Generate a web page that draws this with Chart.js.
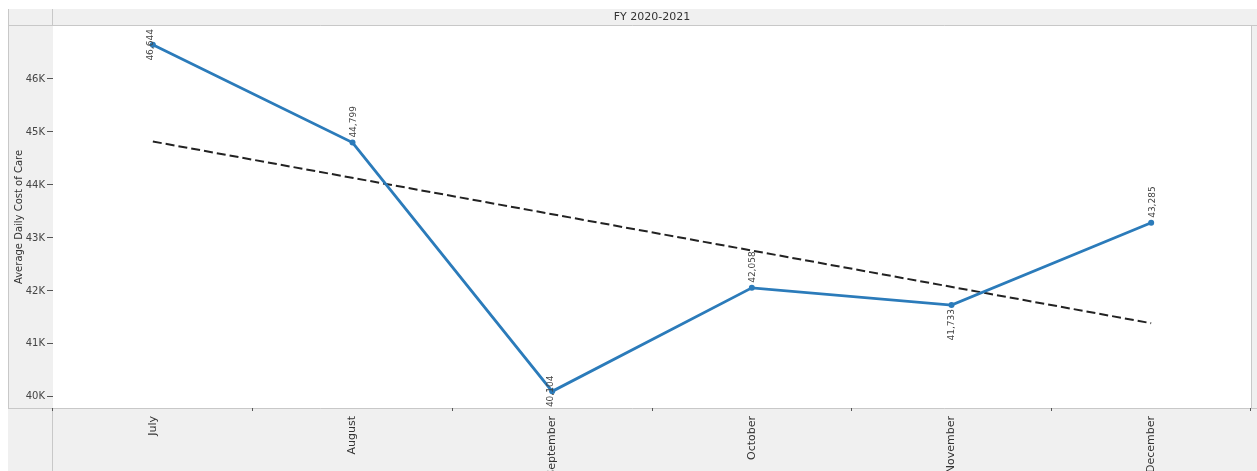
<!DOCTYPE html>
<html>
<head>
<meta charset="utf-8">
<script src="https://cdn.jsdelivr.net/npm/chart.js@4"></script>
<style>
  html, body { margin: 0; padding: 0; background: #fff; }
  #wrap { width: 1257px; height: 471px; position: relative; }
</style>
</head>
<body>
<div id="wrap"><canvas id="costChart"></canvas></div>
<script>
// Data
const months = ['July', 'August', 'September', 'October', 'November', 'December'];
const dailyCost = [46644, 44799, 40104, 42058, 41733, 43285];
// trend line end points (only first and last month are drawn)
const trendCost = [44820, null, null, null, null, 41390];
const yTicks = [40000, 41000, 42000, 43000, 44000, 45000, 46000];
const panelTitle = 'FY 2020-2021';
const yTitle = 'Average Daily Cost of Care';

// where each value label sits relative to its point
const labelPlace = ['center', 'above', 'center', 'above', 'below', 'above'];

const FONT = '"DejaVu Sans", Tahoma, sans-serif';

// gray header / axis bands like the Tableau frame
const framePlugin = {
    id: 'frame',
    beforeDraw(chart) {
        const c = chart.ctx;
        const a = chart.chartArea;
        const W = chart.width, H = chart.height;
        c.save();
        c.fillStyle = '#f0f0f0';
        c.fillRect(8, 9, W - 8, a.top - 9);          // header band
        c.fillRect(8, a.top, a.left - 8, H - a.top);  // left axis column
        c.fillRect(8, a.bottom, W - 8, H - a.bottom); // bottom axis band
        c.fillRect(a.right, a.top, W - a.right, a.bottom - a.top);
        c.fillStyle = '#ffffff';
        c.fillRect(a.left, a.top, a.right - a.left, a.bottom - a.top);

        c.strokeStyle = '#c8c8c8';
        c.lineWidth = 1;
        c.beginPath();
        c.moveTo(8.5, 9); c.lineTo(8.5, a.bottom);
        c.moveTo(8, a.top - 0.5); c.lineTo(W, a.top - 0.5);
        c.moveTo(8, a.bottom + 0.5); c.lineTo(W, a.bottom + 0.5);
        c.moveTo(a.left - 0.5, 9); c.lineTo(a.left - 0.5, a.top);
        c.moveTo(a.left - 0.5, a.bottom); c.lineTo(a.left - 0.5, H);
        c.moveTo(a.right + 0.5, a.top); c.lineTo(a.right + 0.5, a.bottom);
        c.stroke();

        c.fillStyle = '#333';
        c.font = '11px ' + FONT;
        c.textAlign = 'center';
        c.textBaseline = 'middle';
        c.fillText(panelTitle, (a.left + a.right) / 2, (9 + a.top) / 2);
        c.restore();
    }
};

// rotated value labels
const valueLabelPlugin = {
    id: 'valueLabels',
    afterDatasetsDraw(chart) {
        const meta = chart.getDatasetMeta(0);
        const c = chart.ctx;
        c.save();
        c.font = '9px ' + FONT;
        c.fillStyle = '#444';
        c.textBaseline = 'middle';
        meta.data.forEach((pt, i) => {
            const txt = dailyCost[i].toLocaleString('en-US');
            const place = labelPlace[i];
            c.save();
            if (place === 'above') {
                c.translate(pt.x + 1, pt.y - 5);
                c.rotate(-Math.PI / 2);
                c.textAlign = 'left';
            } else if (place === 'below') {
                c.translate(pt.x, pt.y + 4);
                c.rotate(-Math.PI / 2);
                c.textAlign = 'right';
            } else {
                c.translate(pt.x - 2, pt.y);
                c.rotate(-Math.PI / 2);
                c.textAlign = 'center';
            }
            c.fillText(txt, 0, 0);
            c.restore();
        });
        c.restore();
    }
};

const ctx = document.getElementById('costChart').getContext('2d');

const costChart = new Chart(ctx, {
    type: 'line',
    data: {
        labels: months,
        datasets: [{
            label: 'Average Daily Cost of Care',
            data: dailyCost,
            borderColor: '#2b7bba',
            backgroundColor: '#2b7bba',
            borderWidth: 2.8,
            pointRadius: 3,
            pointBorderWidth: 0,
            tension: 0
        }, {
            label: 'Trend',
            data: trendCost,
            borderColor: '#222',
            borderWidth: 2,
            borderDash: [9, 4],
            pointRadius: 0,
            spanGaps: true,
            tension: 0
        }]
    },
    options: {
        responsive: true,
        maintainAspectRatio: false,
        animation: false,
        layout: {
            padding: { left: 8, right: 6, top: 26, bottom: 0 }
        },
        scales: {
            x: {
                offset: true,
                border: { display: false },
                grid: {
                    offset: true,
                    drawOnChartArea: false,
                    tickLength: 3,
                    color: '#555'
                },
                ticks: {
                    minRotation: 90,
                    maxRotation: 90,
                    padding: 5,
                    color: '#333',
                    font: { family: FONT, size: 11 }
                },
                afterFit(scale) { scale.height = 63; }
            },
            y: {
                min: 39790,
                max: 47000,
                border: { display: false },
                afterBuildTicks(scale) {
                    scale.ticks = yTicks.map(v => ({ value: v }));
                },
                ticks: {
                    padding: 2,
                    color: '#444',
                    font: { family: FONT, size: 10 },
                    callback: v => (v / 1000) + 'K'
                },
                grid: {
                    drawOnChartArea: false,
                    tickLength: 6,
                    color: '#555'
                },
                title: {
                    display: true,
                    text: yTitle,
                    color: '#333',
                    font: { family: FONT, size: 10 },
                    padding: { top: 5, bottom: 0 }
                },
                afterFit(scale) { scale.width = 45; }
            }
        },
        plugins: {
            legend: { display: false },
            tooltip: { enabled: false }
        }
    },
    plugins: [framePlugin, valueLabelPlugin]
});
</script>
</body>
</html>
